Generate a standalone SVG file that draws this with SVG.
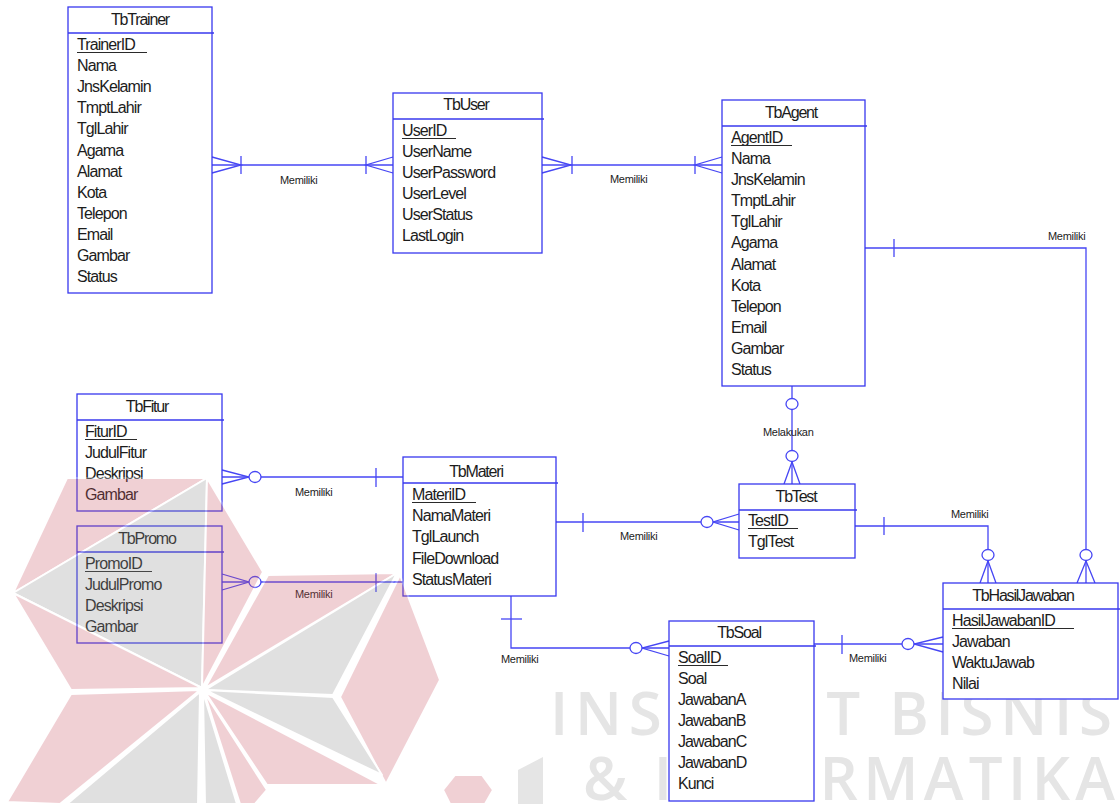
<svg xmlns="http://www.w3.org/2000/svg" width="1120" height="804" viewBox="0 0 1120 804">
  <style>
    .bg { fill: #ffffff; }
    .box { fill: #ffffff; stroke: #3838ee; stroke-width: 1.3; }
    .hdr { stroke: #3838ee; stroke-width: 1.3; }
    .t { font-family: "Liberation Sans", Arial, sans-serif; font-size: 16px; letter-spacing: -0.9px; fill: #1c1c1c; }
    .ttl { text-anchor: middle; letter-spacing: -1.2px; }
    .pk { stroke: #2a2a2a; stroke-width: 1; }
    .c { fill: none; stroke: #4646f4; stroke-width: 1.3; }
    .o { fill: #ffffff; stroke: #4646f4; stroke-width: 1.3; }
    .lbl { font-family: "Liberation Sans", Arial, sans-serif; font-size: 11px; letter-spacing: -0.3px; fill: #1c1c1c; }
    .wm { font-family: "Open Sans", "Liberation Sans", sans-serif; font-weight: 600; font-size: 60px; fill: #e5e5e5; }
    .pw { fill: #cd5869; stroke: #ffffff; stroke-width: 2; stroke-linejoin: round; }
    .gw { fill: #919191; stroke: #ffffff; stroke-width: 2; stroke-linejoin: round; }
  </style>

  <rect class="bg" x="0" y="0" width="1120" height="804"/>

  <!-- background lettering -->
  <g id="wordmark">
    <text class="wm" x="550" y="735" textLength="562" lengthAdjust="spacing">INSTITUT BISNIS</text>
    <text class="wm" x="583" y="800" textLength="532" lengthAdjust="spacing">&amp; INFORMATIKA</text>
    <polygon points="518,770 543,757 543,804 518,804" fill="#e5e5e5"/>
  </g>

  <!-- connectors -->
  <g id="connectors">
    <!-- TbTrainer - TbUser -->
    <path class="c" d="M212 165H393"/>
    <path class="c" d="M212 157L241 165L212 173"/>
    <path class="c" d="M241 156V174"/>
    <path class="c" d="M393 157L366 165L393 173"/>
    <path class="c" d="M366 156V174"/>
    <text class="lbl" x="280" y="184">Memiliki</text>

    <!-- TbUser - TbAgent -->
    <path class="c" d="M542 165H722"/>
    <path class="c" d="M542 157L571 165L542 173"/>
    <path class="c" d="M572 156V174"/>
    <path class="c" d="M722 157L695 165L722 173"/>
    <path class="c" d="M695 156V174"/>
    <text class="lbl" x="610" y="183">Memiliki</text>

    <!-- TbAgent - TbHasilJawaban -->
    <path class="c" d="M865 248H1086V583"/>
    <path class="c" d="M894 239V257"/>
    <path class="c" d="M1077 583L1086 561L1095 583"/>
    <ellipse class="o" cx="1086" cy="555" rx="6" ry="5.5"/>
    <text class="lbl" x="1048" y="240">Memiliki</text>

    <!-- TbAgent - TbTest -->
    <path class="c" d="M792 386V484"/>
    <path class="c" d="M784 484L792 462L800 484"/>
    <ellipse class="o" cx="792" cy="404" rx="6" ry="5.5"/>
    <ellipse class="o" cx="792" cy="456" rx="6" ry="5.5"/>
    <text class="lbl" x="763" y="436">Melakukan</text>

    <!-- TbTest - TbHasilJawaban -->
    <path class="c" d="M855 526H988V583"/>
    <path class="c" d="M884 517V535"/>
    <path class="c" d="M980 583L988 561L996 583"/>
    <ellipse class="o" cx="988" cy="555" rx="6" ry="5.5"/>
    <text class="lbl" x="951" y="518">Memiliki</text>

    <!-- TbMateri - TbTest -->
    <path class="c" d="M556 522H739"/>
    <path class="c" d="M583 513V532"/>
    <path class="c" d="M739 514L713 522L739 530"/>
    <ellipse class="o" cx="707" cy="522" rx="6" ry="5.5"/>
    <text class="lbl" x="620" y="540">Memiliki</text>

    <!-- TbFitur - TbMateri -->
    <path class="c" d="M222 477H403"/>
    <path class="c" d="M222 470L249 477L222 484"/>
    <path class="c" d="M376 468V487"/>
    <ellipse class="o" cx="255" cy="477" rx="6" ry="5.5"/>
    <text class="lbl" x="295" y="496">Memiliki</text>

    <!-- TbPromo - TbMateri -->
    <path class="c" d="M222 582H403"/>
    <path class="c" d="M222 574L249 582L222 590"/>
    <path class="c" d="M376 573V592"/>
    <ellipse class="o" cx="255" cy="582" rx="6" ry="5.5"/>
    <text class="lbl" x="295" y="598">Memiliki</text>

    <!-- TbMateri - TbSoal -->
    <path class="c" d="M511 596V648H669"/>
    <path class="c" d="M501 619H522"/>
    <path class="c" d="M669 641L642 648L669 656"/>
    <ellipse class="o" cx="636" cy="648" rx="6" ry="5.5"/>
    <text class="lbl" x="501" y="663">Memiliki</text>

    <!-- TbSoal - TbHasilJawaban -->
    <path class="c" d="M814 644H943"/>
    <path class="c" d="M842 635V654"/>
    <path class="c" d="M943 637L914 644L943 652"/>
    <ellipse class="o" cx="908" cy="644" rx="6" ry="5.5"/>
    <text class="lbl" x="849" y="662">Memiliki</text>
  </g>

  <!-- entities -->
  <g id="TbTrainer">
    <rect class="box" x="68" y="7" width="144" height="286"/>
    <line class="hdr" x1="68" y1="33" x2="214" y2="33"/>
    <text class="t ttl" x="140" y="25">TbTrainer</text>
    <text class="t" x="77" y="50">TrainerID</text>
    <line class="pk" x1="77" y1="52.5" x2="147" y2="52.5"/>
    <text class="t" x="77" y="71">Nama</text>
    <text class="t" x="77" y="92">JnsKelamin</text>
    <text class="t" x="77" y="113">TmptLahir</text>
    <text class="t" x="77" y="134">TglLahir</text>
    <text class="t" x="77" y="156">Agama</text>
    <text class="t" x="77" y="177">Alamat</text>
    <text class="t" x="77" y="198">Kota</text>
    <text class="t" x="77" y="219">Telepon</text>
    <text class="t" x="77" y="240">Email</text>
    <text class="t" x="77" y="261">Gambar</text>
    <text class="t" x="77" y="282">Status</text>
  </g>

  <g id="TbUser">
    <rect class="box" x="393" y="93" width="149" height="160"/>
    <line class="hdr" x1="393" y1="119" x2="544" y2="119"/>
    <text class="t ttl" x="466" y="110">TbUser</text>
    <text class="t" x="402" y="136">UserID</text>
    <line class="pk" x1="402" y1="138.5" x2="456" y2="138.5"/>
    <text class="t" x="402" y="157">UserName</text>
    <text class="t" x="402" y="178">UserPassword</text>
    <text class="t" x="402" y="199">UserLevel</text>
    <text class="t" x="402" y="220">UserStatus</text>
    <text class="t" x="402" y="241">LastLogin</text>
  </g>

  <g id="TbAgent">
    <rect class="box" x="722" y="100" width="143" height="286"/>
    <line class="hdr" x1="722" y1="126" x2="867" y2="126"/>
    <text class="t ttl" x="791" y="118">TbAgent</text>
    <text class="t" x="731" y="143">AgentID</text>
    <line class="pk" x1="731" y1="145.5" x2="792" y2="145.5"/>
    <text class="t" x="731" y="164">Nama</text>
    <text class="t" x="731" y="185">JnsKelamin</text>
    <text class="t" x="731" y="206">TmptLahir</text>
    <text class="t" x="731" y="227">TglLahir</text>
    <text class="t" x="731" y="248">Agama</text>
    <text class="t" x="731" y="270">Alamat</text>
    <text class="t" x="731" y="291">Kota</text>
    <text class="t" x="731" y="312">Telepon</text>
    <text class="t" x="731" y="333">Email</text>
    <text class="t" x="731" y="354">Gambar</text>
    <text class="t" x="731" y="375">Status</text>
  </g>

  <g id="TbFitur">
    <rect class="box" x="77" y="394" width="145" height="117"/>
    <line class="hdr" x1="77" y1="420" x2="224" y2="420"/>
    <text class="t ttl" x="147" y="412">TbFitur</text>
    <text class="t" x="85" y="437">FiturID</text>
    <line class="pk" x1="85" y1="439.5" x2="137" y2="439.5"/>
    <text class="t" x="85" y="458">JudulFitur</text>
    <text class="t" x="85" y="479">Deskripsi</text>
    <text class="t" x="85" y="500">Gambar</text>
  </g>

  <g id="TbPromo">
    <rect class="box" x="77" y="526" width="145" height="117"/>
    <line class="hdr" x1="77" y1="552" x2="224" y2="552"/>
    <text class="t ttl" x="147" y="544">TbPromo</text>
    <text class="t" x="85" y="569">PromoID</text>
    <line class="pk" x1="85" y1="571.5" x2="152" y2="571.5"/>
    <text class="t" x="85" y="590">JudulPromo</text>
    <text class="t" x="85" y="611">Deskripsi</text>
    <text class="t" x="85" y="632">Gambar</text>
  </g>

  <g id="TbMateri">
    <rect class="box" x="403" y="457" width="153" height="139"/>
    <line class="hdr" x1="403" y1="483" x2="558" y2="483"/>
    <text class="t ttl" x="476" y="477">TbMateri</text>
    <text class="t" x="412" y="500">MateriID</text>
    <line class="pk" x1="412" y1="502.5" x2="476" y2="502.5"/>
    <text class="t" x="412" y="521">NamaMateri</text>
    <text class="t" x="412" y="542">TglLaunch</text>
    <text class="t" x="412" y="564">FileDownload</text>
    <text class="t" x="412" y="585">StatusMateri</text>
  </g>

  <g id="TbTest">
    <rect class="box" x="739" y="484" width="116" height="74"/>
    <line class="hdr" x1="739" y1="510" x2="857" y2="510"/>
    <text class="t ttl" x="796" y="502">TbTest</text>
    <text class="t" x="748" y="526">TestID</text>
    <line class="pk" x1="748" y1="528.5" x2="798" y2="528.5"/>
    <text class="t" x="748" y="547">TglTest</text>
  </g>

  <g id="TbSoal">
    <rect class="box" x="669" y="621" width="145" height="180"/>
    <line class="hdr" x1="669" y1="646" x2="816" y2="646"/>
    <text class="t ttl" x="739" y="638">TbSoal</text>
    <text class="t" x="678" y="663">SoalID</text>
    <line class="pk" x1="678" y1="665.5" x2="728" y2="665.5"/>
    <text class="t" x="678" y="684">Soal</text>
    <text class="t" x="678" y="705">JawabanA</text>
    <text class="t" x="678" y="726">JawabanB</text>
    <text class="t" x="678" y="747">JawabanC</text>
    <text class="t" x="678" y="768">JawabanD</text>
    <text class="t" x="678" y="789">Kunci</text>
  </g>

  <g id="TbHasilJawaban">
    <rect class="box" x="943" y="583" width="175" height="116"/>
    <line class="hdr" x1="943" y1="609" x2="1120" y2="609"/>
    <text class="t ttl" x="1023" y="601">TbHasilJawaban</text>
    <text class="t" x="952" y="626">HasilJawabanID</text>
    <line class="pk" x1="952" y1="628.5" x2="1074" y2="628.5"/>
    <text class="t" x="952" y="647">Jawaban</text>
    <text class="t" x="952" y="668">WaktuJawab</text>
    <text class="t" x="952" y="689">Nilai</text>
  </g>

  <!-- translucent star emblem laid over the lower left -->
  <g id="emblem" opacity="0.28">
    <polygon class="pw" points="67,478 207,478 13,593"/>
    <polygon class="gw" points="13,593 207,478 202,688"/>
    <polygon class="pw" points="13,593 202,688 71,690"/>
    <polygon class="pw" points="207,478 263,572 202,688"/>
    <polygon class="pw" points="268,575 397,573 205,688"/>
    <polygon class="gw" points="397,573 333,695 205,690"/>
    <polygon class="pw" points="400,575 440,680 386,784 340,697"/>
    <polygon class="gw" points="205,690 333,697 382,775"/>
    <polygon class="pw" points="205,692 382,785 267,785"/>
    <polygon class="gw" points="203,692 237,804 205,804"/>
    <polygon class="pw" points="204,692 267,790 255,804 240,804"/>
    <polygon class="pw" points="200,690 71,694 7,802 60,804"/>
    <polygon class="gw" points="200,692 67,804 198,804"/>
    <polygon class="pw" points="455,775 482,775 493,790 485,804 450,804 443,790"/>
  </g>
</svg>
